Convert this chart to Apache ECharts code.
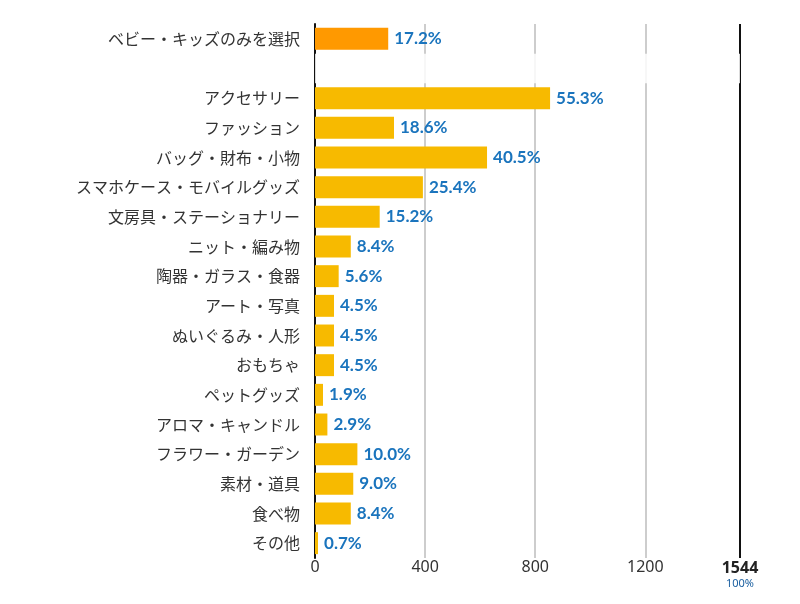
<!DOCTYPE html>
<html><head><meta charset="utf-8">
<script src="https://cdn.jsdelivr.net/npm/echarts@6/dist/echarts.min.js"></script>
<style>html,body{margin:0;padding:0;background:#fff}#c{width:800px;height:604px}</style>
</head><body><div id="c"></div>
<script>
const categories = ['ベビー・キッズのみを選択','','アクセサリー','ファッション','バッグ・財布・小物','スマホケース・モバイルグッズ','文房具・ステーショナリー','ニット・編み物','陶器・ガラス・食器','アート・写真','ぬいぐるみ・人形','おもちゃ','ペットグッズ','アロマ・キャンドル','フラワー・ガーデン','素材・道具','食べ物','その他'];
const counts = [266, null, 854, 287, 625, 392, 235, 130, 86, 69, 69, 69, 29, 45, 154, 139, 130, 11];
const percentLabels = ['17.2%','','55.3%','18.6%','40.5%','25.4%','15.2%','8.4%','5.6%','4.5%','4.5%','4.5%','1.9%','2.9%','10.0%','9.0%','8.4%','0.7%'];
const total = 1544;
const totalLabel = '100%';
const gapRow = [null, total, null, null, null, null, null, null, null, null, null, null, null, null, null, null, null, null];

const chart = echarts.init(document.getElementById('c'));
chart.setOption({
  animation: false,
  grid: {left: 315, right: 60, top: 24, bottom: 46},
  xAxis: {
    type: 'value', min: 0, max: total, interval: 400,
    axisLine: {show: false}, axisTick: {show: false},
    splitLine: {lineStyle: {color: '#bdbdbd', width: 1.5}},
    axisLabel: {
      color: '#333', fontSize: 16, fontFamily: 'Noto Sans', margin: 1,
      showMaxLabel: true,
      formatter: v => v === total ? '{b|' + total + '}\n{p|' + totalLabel + '}' : String(v),
      rich: {
        b: {fontWeight: 'bold', fontSize: 16, color: '#222', fontFamily: 'Noto Sans', lineHeight: 18},
        p: {fontSize: 11, color: '#1a5fa0', fontFamily: 'Noto Sans', lineHeight: 13}
      }
    }
  },
  yAxis: [{
    type: 'category', inverse: true, data: categories,
    axisLine: {lineStyle: {color: '#111', width: 2}},
    axisTick: {show: false},
    axisLabel: {color: '#333', fontSize: 16, margin: 15, fontFamily: 'Noto Sans CJK JP'}
  }, {
    type: 'category', inverse: true, data: categories, show: false
  }],
  series: [
    {
      type: 'bar', data: counts.map((v, i) => ({value: v, itemStyle: {color: i === 0 ? '#ff9900' : '#f7ba00'}})),
      barWidth: '74%', z: 2, yAxisIndex: 0,
      label: {
        show: true, position: 'right', distance: 6,
        formatter: p => percentLabels[p.dataIndex],
        color: '#1a74bd', fontSize: 17, fontWeight: 'bold', fontFamily: 'Lato'
      },
      markLine: {
        symbol: 'none', silent: true, label: {show: false},
        lineStyle: {color: '#111', width: 2, type: 'solid'},
        data: [{xAxis: total}]
      }
    },
    {
      type: 'bar', data: gapRow, yAxisIndex: 1, barWidth: '100%', z: 5, silent: true,
      itemStyle: {color: 'rgba(255,255,255,0.85)'}
    }
  ]
});
</script></body></html>
